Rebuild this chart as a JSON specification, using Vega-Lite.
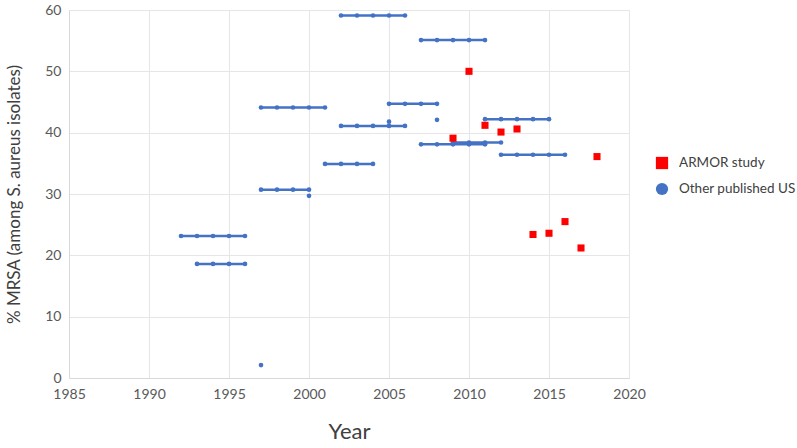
{
  "$schema": "https://vega.github.io/schema/vega-lite/v6.json",
  "autosize": {"type": "none"},
  "width": 560,
  "height": 368,
  "padding": {"left": 69, "top": 10, "right": 168, "bottom": 70},
  "background": "white",
  "config": {
    "font": "Lato",
    "view": {"stroke": null},
    "axis": {"labelFont": "Lato", "titleFont": "Lato", "labelColor": "#595959", "titleColor": "#404040", "gridColor": "#E6E6E6", "domainColor": "#D9D9D9", "ticks": false, "labelFontSize": 14, "titleFontWeight": "normal"},
    "legend": {"labelFont": "Lato", "labelFontSize": 13.5, "labelColor": "#404040"}
  },
  "datasets": {
    "other": [
      {"series": "Other published US", "seg": "A", "year": 2002, "value": 59.1},
      {"series": "Other published US", "seg": "A", "year": 2003, "value": 59.1},
      {"series": "Other published US", "seg": "A", "year": 2004, "value": 59.1},
      {"series": "Other published US", "seg": "A", "year": 2005, "value": 59.1},
      {"series": "Other published US", "seg": "A", "year": 2006, "value": 59.1},
      {"series": "Other published US", "seg": "B", "year": 2007, "value": 55.1},
      {"series": "Other published US", "seg": "B", "year": 2008, "value": 55.1},
      {"series": "Other published US", "seg": "B", "year": 2009, "value": 55.1},
      {"series": "Other published US", "seg": "B", "year": 2010, "value": 55.1},
      {"series": "Other published US", "seg": "B", "year": 2011, "value": 55.1},
      {"series": "Other published US", "seg": "C", "year": 1997, "value": 44.1},
      {"series": "Other published US", "seg": "C", "year": 1998, "value": 44.1},
      {"series": "Other published US", "seg": "C", "year": 1999, "value": 44.1},
      {"series": "Other published US", "seg": "C", "year": 2000, "value": 44.1},
      {"series": "Other published US", "seg": "C", "year": 2001, "value": 44.1},
      {"series": "Other published US", "seg": "D", "year": 2005, "value": 44.7},
      {"series": "Other published US", "seg": "D", "year": 2006, "value": 44.7},
      {"series": "Other published US", "seg": "D", "year": 2007, "value": 44.7},
      {"series": "Other published US", "seg": "D", "year": 2008, "value": 44.7},
      {"series": "Other published US", "seg": "E", "year": 2002, "value": 41.1},
      {"series": "Other published US", "seg": "E", "year": 2003, "value": 41.1},
      {"series": "Other published US", "seg": "E", "year": 2004, "value": 41.1},
      {"series": "Other published US", "seg": "E", "year": 2005, "value": 41.1},
      {"series": "Other published US", "seg": "E", "year": 2006, "value": 41.1},
      {"series": "Other published US", "seg": "F", "year": 2011, "value": 42.2},
      {"series": "Other published US", "seg": "F", "year": 2012, "value": 42.2},
      {"series": "Other published US", "seg": "F", "year": 2013, "value": 42.2},
      {"series": "Other published US", "seg": "F", "year": 2014, "value": 42.2},
      {"series": "Other published US", "seg": "F", "year": 2015, "value": 42.2},
      {"series": "Other published US", "seg": "G", "year": 2007, "value": 38.1},
      {"series": "Other published US", "seg": "G", "year": 2008, "value": 38.1},
      {"series": "Other published US", "seg": "G", "year": 2009, "value": 38.1},
      {"series": "Other published US", "seg": "G", "year": 2010, "value": 38.1},
      {"series": "Other published US", "seg": "G", "year": 2011, "value": 38.1},
      {"series": "Other published US", "seg": "H", "year": 2009, "value": 38.4},
      {"series": "Other published US", "seg": "H", "year": 2010, "value": 38.4},
      {"series": "Other published US", "seg": "H", "year": 2011, "value": 38.4},
      {"series": "Other published US", "seg": "H", "year": 2012, "value": 38.4},
      {"series": "Other published US", "seg": "H2", "year": 2009, "value": 38.2},
      {"series": "Other published US", "seg": "H2", "year": 2010, "value": 38.2},
      {"series": "Other published US", "seg": "H2", "year": 2011, "value": 38.2},
      {"series": "Other published US", "seg": "I", "year": 2012, "value": 36.4},
      {"series": "Other published US", "seg": "I", "year": 2013, "value": 36.4},
      {"series": "Other published US", "seg": "I", "year": 2014, "value": 36.4},
      {"series": "Other published US", "seg": "I", "year": 2015, "value": 36.4},
      {"series": "Other published US", "seg": "I", "year": 2016, "value": 36.4},
      {"series": "Other published US", "seg": "J", "year": 2001, "value": 34.9},
      {"series": "Other published US", "seg": "J", "year": 2002, "value": 34.9},
      {"series": "Other published US", "seg": "J", "year": 2003, "value": 34.9},
      {"series": "Other published US", "seg": "J", "year": 2004, "value": 34.9},
      {"series": "Other published US", "seg": "K", "year": 1997, "value": 30.7},
      {"series": "Other published US", "seg": "K", "year": 1998, "value": 30.7},
      {"series": "Other published US", "seg": "K", "year": 1999, "value": 30.7},
      {"series": "Other published US", "seg": "K", "year": 2000, "value": 30.7},
      {"series": "Other published US", "seg": "L", "year": 1992, "value": 23.15},
      {"series": "Other published US", "seg": "L", "year": 1993, "value": 23.15},
      {"series": "Other published US", "seg": "L", "year": 1994, "value": 23.15},
      {"series": "Other published US", "seg": "L", "year": 1995, "value": 23.15},
      {"series": "Other published US", "seg": "L", "year": 1996, "value": 23.15},
      {"series": "Other published US", "seg": "M", "year": 1993, "value": 18.6},
      {"series": "Other published US", "seg": "M", "year": 1994, "value": 18.6},
      {"series": "Other published US", "seg": "M", "year": 1995, "value": 18.6},
      {"series": "Other published US", "seg": "M", "year": 1996, "value": 18.6},
      {"series": "Other published US", "seg": "S1", "year": 2008, "value": 42.1},
      {"series": "Other published US", "seg": "S2", "year": 2005, "value": 41.8},
      {"series": "Other published US", "seg": "S3", "year": 2000, "value": 29.7},
      {"series": "Other published US", "seg": "S4", "year": 1997, "value": 2.1}
    ],
    "armor": [
      {"series": "ARMOR study", "year": 2009, "value": 39.1},
      {"series": "ARMOR study", "year": 2010, "value": 50.0},
      {"series": "ARMOR study", "year": 2011, "value": 41.2},
      {"series": "ARMOR study", "year": 2012, "value": 40.1},
      {"series": "ARMOR study", "year": 2013, "value": 40.6},
      {"series": "ARMOR study", "year": 2014, "value": 23.4},
      {"series": "ARMOR study", "year": 2015, "value": 23.6},
      {"series": "ARMOR study", "year": 2016, "value": 25.5},
      {"series": "ARMOR study", "year": 2017, "value": 21.2},
      {"series": "ARMOR study", "year": 2018, "value": 36.1}
    ]
  },
  "encoding": {
    "x": {"field": "year", "type": "quantitative", "scale": {"domain": [1985, 2020], "nice": false, "zero": false},
      "axis": {"title": "Year", "values": [1985, 1990, 1995, 2000, 2005, 2010, 2015, 2020], "format": "d", "labelPadding": 9, "titleFontSize": 22, "titlePadding": 20, "labelFlush": false}},
    "y": {"field": "value", "type": "quantitative", "scale": {"domain": [0, 60], "nice": false},
      "axis": {"title": "% MRSA (among S. aureus isolates)", "values": [0, 10, 20, 30, 40, 50, 60], "labelPadding": 8, "titleFontSize": 17, "titlePadding": 21}}
  },
  "layer": [
    {
      "data": {"name": "other"},
      "mark": {"type": "line", "color": "#4472C4", "strokeWidth": 2.5},
      "encoding": {"detail": {"field": "seg"}}
    },
    {
      "data": {"name": "other"},
      "mark": {"type": "point", "filled": true, "opacity": 1, "size": 22},
      "encoding": {
        "color": {"field": "series", "type": "nominal", "scale": {"domain": ["ARMOR study", "Other published US"], "range": ["#FF0000", "#4472C4"]},
          "legend": {"title": null, "orient": "none", "legendX": 586, "legendY": 146, "symbolSize": 150, "rowPadding": 12, "labelOffset": 10, "symbolOpacity": 1}},
        "shape": {"field": "series", "type": "nominal", "scale": {"domain": ["ARMOR study", "Other published US"], "range": ["square", "circle"]}}
      }
    },
    {
      "data": {"name": "armor"},
      "mark": {"type": "point", "filled": true, "opacity": 1, "size": 50},
      "encoding": {
        "color": {"field": "series", "type": "nominal"},
        "shape": {"field": "series", "type": "nominal"}
      }
    }
  ]
}
